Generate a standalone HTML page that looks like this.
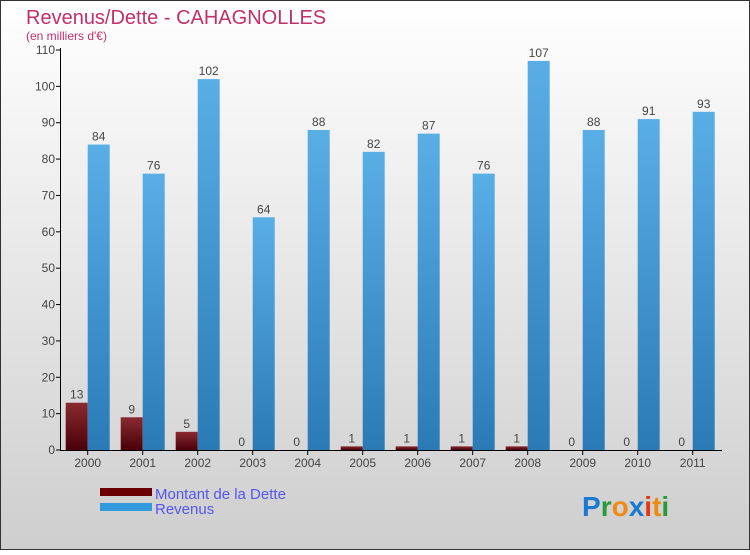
<!DOCTYPE html>
<html><head><meta charset="utf-8"><style>
body{margin:0;width:750px;height:550px;overflow:hidden;font-family:"Liberation Sans",sans-serif}
</style></head><body>
<svg width="750" height="550" xmlns="http://www.w3.org/2000/svg">
<defs>
<linearGradient id="bg" x1="0" y1="0" x2="0" y2="1"><stop offset="0" stop-color="#ffffff"/><stop offset="1" stop-color="#cecece"/></linearGradient>
<linearGradient id="gd" x1="0" y1="0" x2="0" y2="1"><stop offset="0" stop-color="#8a2a30"/><stop offset="1" stop-color="#4a0008"/></linearGradient>
<linearGradient id="gr" x1="0" y1="0" x2="0" y2="1"><stop offset="0" stop-color="#5aaee6"/><stop offset="1" stop-color="#2a7ab6"/></linearGradient>
</defs>
<rect x="0.5" y="0.5" width="749" height="549" fill="url(#bg)" stroke="#333"/>
<text x="26" y="24" font-size="20" fill="#c0306a">Revenus/Dette - CAHAGNOLLES</text>
<text x="26" y="40" font-size="12" fill="#c0306a">(en milliers d'€)</text>
<g id="plot"></g>
<rect x="100" y="488" width="52" height="8" fill="#6a0000"/>
<rect x="100" y="503" width="52" height="8" fill="#3399dd"/>
<text x="155" y="499" font-size="15" fill="#5555ee">Montant de la Dette</text>
<text x="155" y="514" font-size="15" fill="#5555ee">Revenus</text>
<text x="582" y="516" font-size="28" font-weight="bold"><tspan fill="#1a7ad0">P</tspan><tspan fill="#2a9a3a">r</tspan><tspan fill="#f08a10">o</tspan><tspan fill="#1a7ad0">x</tspan><tspan fill="#e03a10">i</tspan><tspan fill="#f08a10">t</tspan><tspan fill="#2a9a3a">i</tspan></text>
</svg>
<script>
const years=["2000","2001","2002","2003","2004","2005","2006","2007","2008","2009","2010","2011"];
const dette=[13,9,5,0,0,1,1,1,1,0,0,0];
const revenus=[84,76,102,64,88,82,87,76,107,88,91,93];
const yTicks=[0,10,20,30,40,50,60,70,80,90,100,110];
const NS="http://www.w3.org/2000/svg";
const g=document.getElementById('plot');
const y=v=>450-v*400/110;
const xc=i=>87.7+i*55;
function mk(t,a,txt){const e=document.createElementNS(NS,t);for(const k in a)e.setAttribute(k,a[k]);if(txt!=null)e.textContent=txt;g.appendChild(e);return e;}
yTicks.forEach(v=>{
 const l=mk('line',{x1:56,x2:61,y1:y(v),y2:y(v),stroke:'#000'});
 
 
 const t=mk('text',{x:55,y:y(v)+4,'font-size':12,'text-anchor':'end',fill:'#444'},v);
 
 
});
years.forEach((yr,i)=>{
 const c=xc(i);
 const d=mk('rect',{x:c-22,y:y(dette[i]),width:22,height:Math.max(450-y(dette[i]),1),fill:'url(#gd)'});
 
 
 const r=mk('rect',{x:c,y:y(revenus[i]),width:22,height:450-y(revenus[i]),fill:'url(#gr)'});
 
 
 const dl=mk('text',{x:c-11,y:y(dette[i])-4,'font-size':12,'text-anchor':'middle',fill:'#444'},dette[i]);
 
 
 const rl=mk('text',{x:c+11,y:y(revenus[i])-4,'font-size':12,'text-anchor':'middle',fill:'#444'},revenus[i]);
 
 
 const tk=mk('line',{x1:c,x2:c,y1:450,y2:455,stroke:'#000'});
 
 
 const xl=mk('text',{x:c,y:467,'font-size':12,'text-anchor':'middle',fill:'#444'},yr);
 
 
});
const ya=mk('line',{x1:60.5,x2:60.5,y1:48,y2:450,stroke:'#000'});


const xa=mk('line',{x1:60,x2:722,y1:450.5,y2:450.5,stroke:'#000'});


</script>
</body></html>
